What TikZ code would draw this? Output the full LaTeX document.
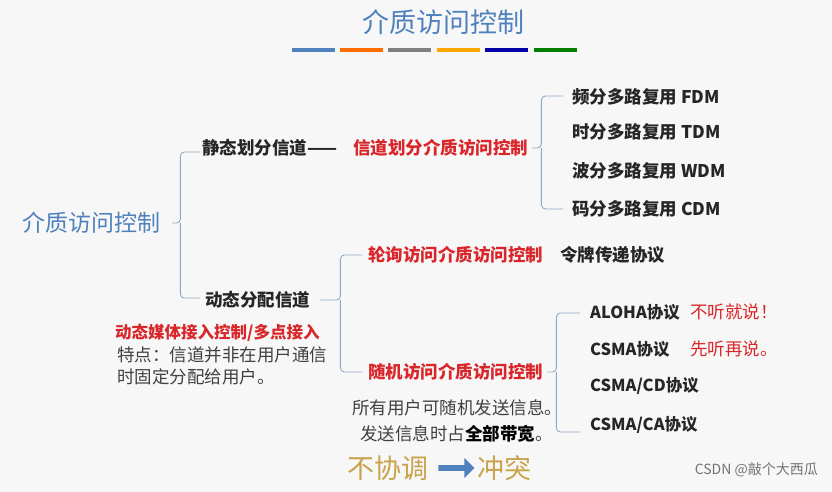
\documentclass[tikz,border=0pt]{standalone}
\usepackage{fontspec}
\setmainfont{Noto Sans CJK SC}
\usetikzlibrary{shapes.arrows}
\definecolor{tblue}{HTML}{4F81BD}
\definecolor{tred}{HTML}{D9262A}
\definecolor{brc}{HTML}{8FA9C9}
\definecolor{gold}{HTML}{C8A34A}
\tikzset{
 lbl/.style={anchor=west,inner sep=0pt,font=\fontsize{17.5}{20}\selectfont\bfseries,text=black!85},
 plbl/.style={lbl,font=\fontsize{16.5}{20}\selectfont\bfseries},
 rlbl/.style={lbl,text=tred},
 plain/.style={anchor=west,inner sep=0pt,font=\fontsize{17.5}{20}\selectfont,text=black!75},
 br/.style={draw=brc,line width=0.9pt,rounded corners=4pt},
 bar/.style={line width=4pt}
}
\begin{document}
\begin{tikzpicture}[x=1pt,y=-1pt]
\fill[black!3] (0,0) rectangle (832,492);
\useasboundingbox (0,0) rectangle (832,492);
\node[font=\fontsize{27}{30}\selectfont,text=tblue] (title) at (443,22) {介质访问控制};
\foreach \x/\c in {292/tblue,340/orange!85!red,388/gray,437/orange!70!yellow,485/blue!65!black,534/green!50!black}
  \draw[bar,\c] (\x,50) -- ++(43,0);
\node[anchor=west,inner sep=0pt,font=\fontsize{23}{26}\selectfont,text=tblue] (root) at (22,223) {介质访问控制};
\draw[br] (root.east)++(12,0) coordinate (r1) -- ++(8,0) |- (200,152);
\draw[br] (r1)++(8,0) |- (200,298);
\node[lbl] (stat) at (202,148) {静态划分信道——};
\node[rlbl] (chd) at (353,148) {信道划分介质访问控制};
\draw[br] (chd.east)++(4,0) -- ++(9,0) coordinate (b2) |- (563,96);
\draw[br] (b2) |- (563,209);
\node[lbl] at (572,97) {频分多路复用 FDM};
\node[lbl] at (572,132) {时分多路复用 TDM};
\node[lbl] at (572,171) {波分多路复用 WDM};
\node[lbl] at (572,209) {码分多路复用 CDM};
\node[lbl] (dyn) at (205,300) {动态分配信道};
\draw[br] (dyn.east)++(10,0) -- ++(20,0) coordinate (b3) |- (362,255);
\draw[br] (b3) |- (362,372);
\node[rlbl] (poll) at (368,255) {轮询访问介质访问控制};
\node[lbl] at (560,255) {令牌传递协议};
\node[rlbl] (rand) at (368,372) {随机访问介质访问控制};
\draw[br] (rand.east)++(4,0) -- ++(9,0) coordinate (b4) |- (580,313);
\draw[br] (b4) |- (580,432);
\node[plbl] at (590,312) {ALOHA协议};
\node[plbl] at (590,349) {CSMA协议};
\node[plbl] at (590,386) {CSMA/CD协议};
\node[plbl] at (590,425) {CSMA/CA协议};
\node[plain,text=tred] at (690,312) {不听就说！};
\node[plain,text=tred] at (690,349) {先听再说。};
\node[rlbl,font=\fontsize{16.5}{20}\selectfont\bfseries] at (115,333) {动态媒体接入控制/多点接入};
\node[plain,align=left,anchor=north west,font=\fontsize{17.5}{22}\selectfont] at (117,347) {特点：信道并非在用户通信\\时固定分配给用户。};
\node[plain] at (352,408) {所有用户可随机发送信息。};
\node[plain] at (360,434) {发送信息时占\textbf{\textcolor{black}{全部带宽}}。};
\node[anchor=west,inner sep=0pt,font=\fontsize{27}{30}\selectfont,text=gold] (a) at (347,468) {不协调};
\node[single arrow,fill=tblue,minimum height=36pt,minimum width=20pt,single arrow head extend=3pt,inner sep=1pt] (arr) at (455,468) {};
\node[anchor=west,inner sep=0pt,font=\fontsize{27}{30}\selectfont,text=gold] (b) at (477,468) {冲突};
\node[anchor=east,inner sep=0pt,font=\fontsize{14}{16}\selectfont,text=black!55] at (818,470) {CSDN @敲个大西瓜};
\end{tikzpicture}
\end{document}
